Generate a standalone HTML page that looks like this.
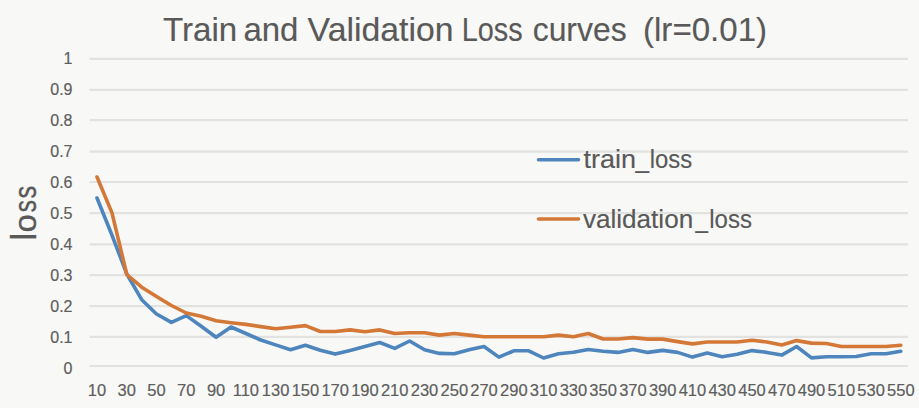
<!DOCTYPE html><html><head><meta charset="utf-8"><style>html,body{margin:0;padding:0;background:#f8f8f6;width:919px;height:408px;overflow:hidden;}svg{display:block;}text{font-family:"Liberation Sans",sans-serif;}</style></head><body>
<svg width="919" height="408" viewBox="0 0 919 408">
<rect x="0" y="0" width="919" height="408" fill="#f8f8f6"/>
<line x1="89.5" y1="58.8" x2="908" y2="58.8" stroke="#e2e2e0" stroke-width="2.2"/>
<line x1="89.5" y1="89.8" x2="908" y2="89.8" stroke="#e2e2e0" stroke-width="2.2"/>
<line x1="89.5" y1="120.2" x2="908" y2="120.2" stroke="#e2e2e0" stroke-width="2.2"/>
<line x1="89.5" y1="151.6" x2="908" y2="151.6" stroke="#e2e2e0" stroke-width="2.2"/>
<line x1="89.5" y1="182" x2="908" y2="182" stroke="#e2e2e0" stroke-width="2.2"/>
<line x1="89.5" y1="213.2" x2="908" y2="213.2" stroke="#e2e2e0" stroke-width="2.2"/>
<line x1="89.5" y1="244.4" x2="908" y2="244.4" stroke="#e2e2e0" stroke-width="2.2"/>
<line x1="89.5" y1="275.1" x2="908" y2="275.1" stroke="#e2e2e0" stroke-width="2.2"/>
<line x1="89.5" y1="306.2" x2="908" y2="306.2" stroke="#e2e2e0" stroke-width="2.2"/>
<line x1="89.5" y1="336.8" x2="908" y2="336.8" stroke="#e2e2e0" stroke-width="2.2"/>
<line x1="89.5" y1="366" x2="908" y2="366" stroke="#e2e2e0" stroke-width="2.2"/>
<text x="72.5" y="64.0" font-size="16" fill="#5e5e5e" stroke="#5e5e5e" stroke-width="0.2" text-anchor="end">1</text>
<text x="72.5" y="95.0" font-size="16" fill="#5e5e5e" stroke="#5e5e5e" stroke-width="0.2" text-anchor="end">0.9</text>
<text x="72.5" y="126.0" font-size="16" fill="#5e5e5e" stroke="#5e5e5e" stroke-width="0.2" text-anchor="end">0.8</text>
<text x="72.5" y="156.9" font-size="16" fill="#5e5e5e" stroke="#5e5e5e" stroke-width="0.2" text-anchor="end">0.7</text>
<text x="72.5" y="187.9" font-size="16" fill="#5e5e5e" stroke="#5e5e5e" stroke-width="0.2" text-anchor="end">0.6</text>
<text x="72.5" y="218.9" font-size="16" fill="#5e5e5e" stroke="#5e5e5e" stroke-width="0.2" text-anchor="end">0.5</text>
<text x="72.5" y="249.8" font-size="16" fill="#5e5e5e" stroke="#5e5e5e" stroke-width="0.2" text-anchor="end">0.4</text>
<text x="72.5" y="280.8" font-size="16" fill="#5e5e5e" stroke="#5e5e5e" stroke-width="0.2" text-anchor="end">0.3</text>
<text x="72.5" y="311.8" font-size="16" fill="#5e5e5e" stroke="#5e5e5e" stroke-width="0.2" text-anchor="end">0.2</text>
<text x="72.5" y="342.7" font-size="16" fill="#5e5e5e" stroke="#5e5e5e" stroke-width="0.2" text-anchor="end">0.1</text>
<text x="72.5" y="373.7" font-size="16" fill="#5e5e5e" stroke="#5e5e5e" stroke-width="0.2" text-anchor="end">0</text>
<text x="97.0" y="396" font-size="16.5" fill="#5e5e5e" stroke="#5e5e5e" stroke-width="0.2" text-anchor="middle">10</text>
<text x="126.8" y="396" font-size="16.5" fill="#5e5e5e" stroke="#5e5e5e" stroke-width="0.2" text-anchor="middle">30</text>
<text x="156.5" y="396" font-size="16.5" fill="#5e5e5e" stroke="#5e5e5e" stroke-width="0.2" text-anchor="middle">50</text>
<text x="186.3" y="396" font-size="16.5" fill="#5e5e5e" stroke="#5e5e5e" stroke-width="0.2" text-anchor="middle">70</text>
<text x="216.1" y="396" font-size="16.5" fill="#5e5e5e" stroke="#5e5e5e" stroke-width="0.2" text-anchor="middle">90</text>
<text x="245.9" y="396" font-size="16.5" fill="#5e5e5e" stroke="#5e5e5e" stroke-width="0.2" text-anchor="middle">110</text>
<text x="275.6" y="396" font-size="16.5" fill="#5e5e5e" stroke="#5e5e5e" stroke-width="0.2" text-anchor="middle">130</text>
<text x="305.4" y="396" font-size="16.5" fill="#5e5e5e" stroke="#5e5e5e" stroke-width="0.2" text-anchor="middle">150</text>
<text x="335.2" y="396" font-size="16.5" fill="#5e5e5e" stroke="#5e5e5e" stroke-width="0.2" text-anchor="middle">170</text>
<text x="364.9" y="396" font-size="16.5" fill="#5e5e5e" stroke="#5e5e5e" stroke-width="0.2" text-anchor="middle">190</text>
<text x="394.7" y="396" font-size="16.5" fill="#5e5e5e" stroke="#5e5e5e" stroke-width="0.2" text-anchor="middle">210</text>
<text x="424.5" y="396" font-size="16.5" fill="#5e5e5e" stroke="#5e5e5e" stroke-width="0.2" text-anchor="middle">230</text>
<text x="454.3" y="396" font-size="16.5" fill="#5e5e5e" stroke="#5e5e5e" stroke-width="0.2" text-anchor="middle">250</text>
<text x="484.0" y="396" font-size="16.5" fill="#5e5e5e" stroke="#5e5e5e" stroke-width="0.2" text-anchor="middle">270</text>
<text x="513.8" y="396" font-size="16.5" fill="#5e5e5e" stroke="#5e5e5e" stroke-width="0.2" text-anchor="middle">290</text>
<text x="543.6" y="396" font-size="16.5" fill="#5e5e5e" stroke="#5e5e5e" stroke-width="0.2" text-anchor="middle">310</text>
<text x="573.4" y="396" font-size="16.5" fill="#5e5e5e" stroke="#5e5e5e" stroke-width="0.2" text-anchor="middle">330</text>
<text x="603.1" y="396" font-size="16.5" fill="#5e5e5e" stroke="#5e5e5e" stroke-width="0.2" text-anchor="middle">350</text>
<text x="632.9" y="396" font-size="16.5" fill="#5e5e5e" stroke="#5e5e5e" stroke-width="0.2" text-anchor="middle">370</text>
<text x="662.7" y="396" font-size="16.5" fill="#5e5e5e" stroke="#5e5e5e" stroke-width="0.2" text-anchor="middle">390</text>
<text x="692.4" y="396" font-size="16.5" fill="#5e5e5e" stroke="#5e5e5e" stroke-width="0.2" text-anchor="middle">410</text>
<text x="722.2" y="396" font-size="16.5" fill="#5e5e5e" stroke="#5e5e5e" stroke-width="0.2" text-anchor="middle">430</text>
<text x="752.0" y="396" font-size="16.5" fill="#5e5e5e" stroke="#5e5e5e" stroke-width="0.2" text-anchor="middle">450</text>
<text x="781.8" y="396" font-size="16.5" fill="#5e5e5e" stroke="#5e5e5e" stroke-width="0.2" text-anchor="middle">470</text>
<text x="811.5" y="396" font-size="16.5" fill="#5e5e5e" stroke="#5e5e5e" stroke-width="0.2" text-anchor="middle">490</text>
<text x="841.3" y="396" font-size="16.5" fill="#5e5e5e" stroke="#5e5e5e" stroke-width="0.2" text-anchor="middle">510</text>
<text x="871.1" y="396" font-size="16.5" fill="#5e5e5e" stroke="#5e5e5e" stroke-width="0.2" text-anchor="middle">530</text>
<text x="900.8" y="396" font-size="16.5" fill="#5e5e5e" stroke="#5e5e5e" stroke-width="0.2" text-anchor="middle">550</text>
<text x="163" y="41.4" font-size="32.5" fill="#595959" stroke="#595959" stroke-width="0.15" textLength="74.25" lengthAdjust="spacingAndGlyphs">Train</text>
<text x="243.4" y="41.4" font-size="32.5" fill="#595959" stroke="#595959" stroke-width="0.15" textLength="55.01" lengthAdjust="spacingAndGlyphs">and</text>
<text x="307.6" y="41.4" font-size="32.5" fill="#595959" stroke="#595959" stroke-width="0.15" textLength="145.93" lengthAdjust="spacingAndGlyphs">Validation</text>
<text x="461.7" y="41.4" font-size="32.5" fill="#595959" stroke="#595959" stroke-width="0.15" textLength="60.87" lengthAdjust="spacingAndGlyphs">Loss</text>
<text x="532.7" y="41.4" font-size="32.5" fill="#595959" stroke="#595959" stroke-width="0.15" textLength="93.95" lengthAdjust="spacingAndGlyphs">curves</text>
<text x="643" y="41.4" font-size="32.5" fill="#595959" stroke="#595959" stroke-width="0.15" textLength="124.14" lengthAdjust="spacingAndGlyphs">(lr=0.01)</text>
<g transform="translate(35.9,239.8) rotate(-90)">
<text x="-0.6" y="0" font-size="35" fill="#595959" stroke="#595959" stroke-width="0.35" >l</text>
<text x="7.3" y="0" font-size="31.5" fill="#595959" stroke="#595959" stroke-width="0.35" textLength="18.29" lengthAdjust="spacingAndGlyphs">o</text>
<text x="27.5" y="0" font-size="31.5" fill="#595959" stroke="#595959" stroke-width="0.35" textLength="12.17" lengthAdjust="spacingAndGlyphs">s</text>
<text x="41.4" y="0" font-size="31.5" fill="#595959" stroke="#595959" stroke-width="0.35" textLength="12.69" lengthAdjust="spacingAndGlyphs">s</text>
</g>
<polyline points="97.0,198.0 111.9,235.0 126.8,274.0 141.7,299.7 156.5,314.0 171.4,322.4 186.3,315.6 201.2,326.2 216.1,337.2 231.0,327.0 245.9,333.5 260.7,340.0 275.6,344.9 290.5,349.8 305.4,345.3 320.3,350.3 335.2,354.1 350.1,350.4 364.9,346.5 379.8,342.5 394.7,348.4 409.6,341.0 424.5,349.8 439.4,353.4 454.3,353.7 469.1,349.8 484.0,346.5 498.9,357.1 513.8,350.8 528.7,350.8 543.6,358.0 558.5,353.7 573.4,352.3 588.2,349.5 603.1,351.2 618.0,352.4 632.9,349.5 647.8,352.4 662.7,350.4 677.6,352.4 692.4,357.1 707.3,353.1 722.2,356.7 737.1,354.3 752.0,350.6 766.9,352.4 781.8,355.1 796.6,346.5 811.5,357.9 826.4,356.7 841.3,356.7 856.2,356.5 871.1,353.7 886.0,353.7 900.8,351.2" fill="none" stroke="#4f85bd" stroke-width="3.6" stroke-linejoin="round" stroke-linecap="round"/>
<polyline points="97.0,177.0 111.9,212.6 126.8,274.5 141.7,287.2 156.5,296.5 171.4,305.5 186.3,313.0 201.2,316.3 216.1,320.7 231.0,322.7 245.9,324.4 260.7,326.6 275.6,328.8 290.5,327.3 305.4,325.6 320.3,331.5 335.2,331.5 350.1,329.9 364.9,331.8 379.8,329.9 394.7,333.5 409.6,332.8 424.5,332.7 439.4,335.1 454.3,333.5 469.1,335.1 484.0,336.7 498.9,336.7 513.8,336.7 528.7,336.7 543.6,336.7 558.5,335.1 573.4,336.7 588.2,333.5 603.1,339.0 618.0,339.0 632.9,337.6 647.8,339.1 662.7,339.1 677.6,341.6 692.4,343.9 707.3,342.0 722.2,342.0 737.1,342.0 752.0,340.3 766.9,342.0 781.8,344.9 796.6,340.6 811.5,343.1 826.4,343.5 841.3,346.5 856.2,346.5 871.1,346.5 886.0,346.5 900.8,345.2" fill="none" stroke="#d47838" stroke-width="3.6" stroke-linejoin="round" stroke-linecap="round"/>
<line x1="538.5" y1="159.8" x2="578.5" y2="159.8" stroke="#4f85bd" stroke-width="3.6" stroke-linecap="round"/>
<text x="583.4" y="167.8" font-size="25" fill="#595959" stroke="#595959" stroke-width="0.15" textLength="52.54" lengthAdjust="spacingAndGlyphs">train</text>
<text x="635.4" y="167.8" font-size="25" fill="#595959" stroke="#595959" stroke-width="0.15" textLength="13.54" lengthAdjust="spacingAndGlyphs">_</text>
<text x="649.8" y="167.8" font-size="25" fill="#595959" stroke="#595959" stroke-width="0.15" textLength="42.41" lengthAdjust="spacingAndGlyphs">loss</text>
<line x1="538.5" y1="219" x2="578.5" y2="219" stroke="#d47838" stroke-width="3.6" stroke-linecap="round"/>
<text x="582.9" y="227.8" font-size="25" fill="#595959" stroke="#595959" stroke-width="0.15" textLength="110.33" lengthAdjust="spacingAndGlyphs">validation</text>
<text x="695.6" y="227.8" font-size="25" fill="#595959" stroke="#595959" stroke-width="0.15" textLength="12.43" lengthAdjust="spacingAndGlyphs">_</text>
<text x="709.2" y="227.8" font-size="25" fill="#595959" stroke="#595959" stroke-width="0.15" textLength="42.72" lengthAdjust="spacingAndGlyphs">loss</text>
</svg></body></html>
